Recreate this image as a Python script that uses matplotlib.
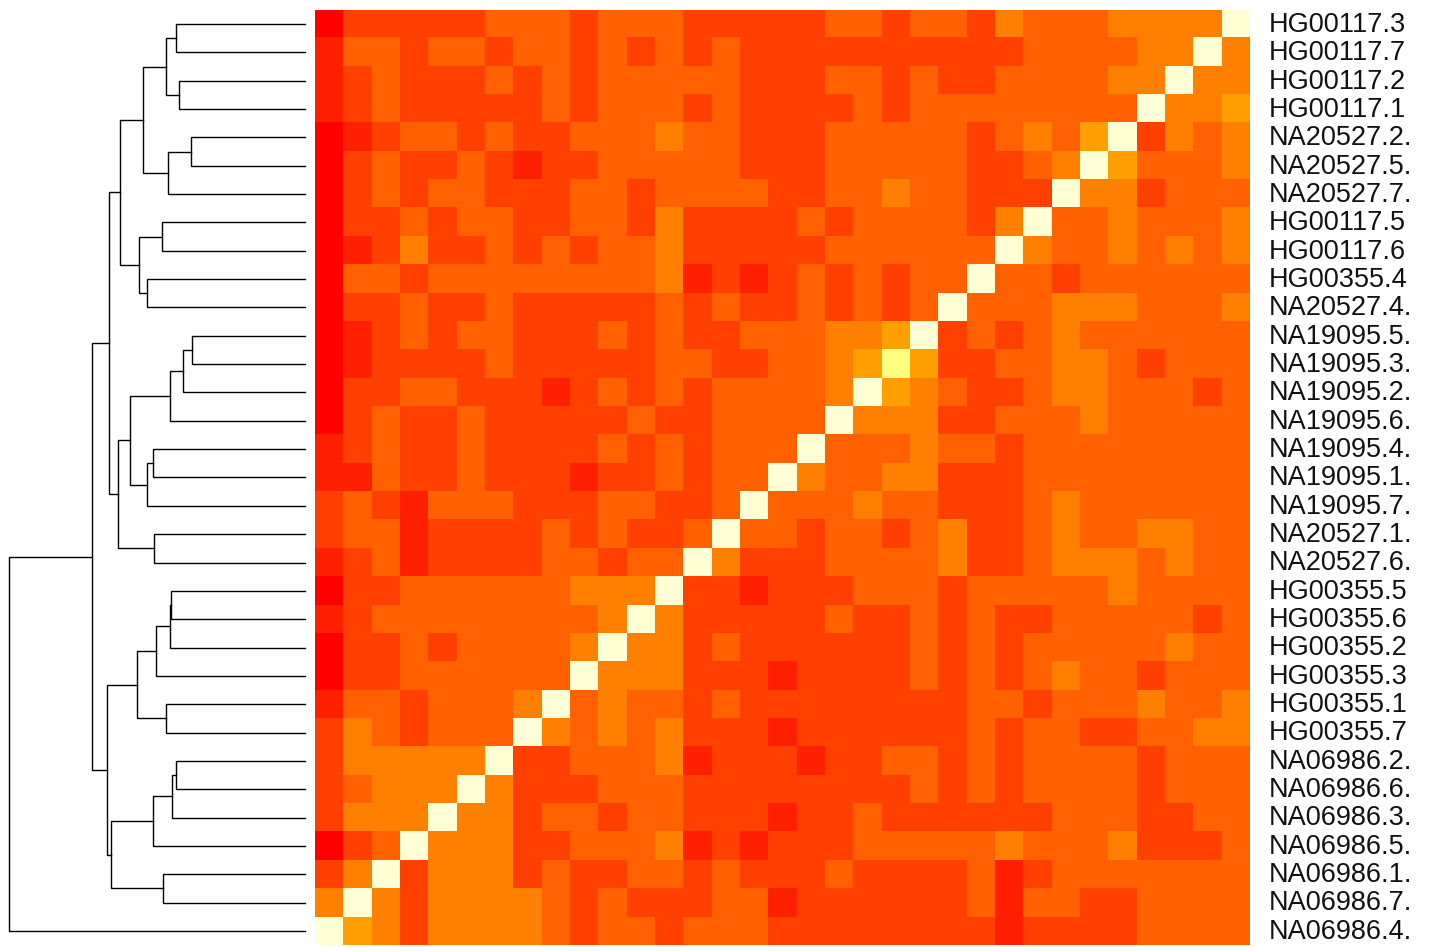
import numpy as np
import matplotlib
matplotlib.use("Agg")
import matplotlib.pyplot as plt
from matplotlib.colors import ListedColormap

# row labels, top to bottom
labels = ["HG00117.3", "HG00117.7", "HG00117.2", "HG00117.1", "NA20527.2.",
          "NA20527.5.", "NA20527.7.", "HG00117.5", "HG00117.6", "HG00355.4",
          "NA20527.4.", "NA19095.5.", "NA19095.3.", "NA19095.2.", "NA19095.6.",
          "NA19095.4.", "NA19095.1.", "NA19095.7.", "NA20527.1.", "NA20527.6.",
          "HG00355.5", "HG00355.6", "HG00355.2", "HG00355.3", "HG00355.1",
          "HG00355.7", "NA06986.2.", "NA06986.6.", "NA06986.3.", "NA06986.5.",
          "NA06986.1.", "NA06986.7.", "NA06986.4."]

# heat.colors(12) levels per cell (0 = red ... 11 = pale yellow)
levels = [
    [0,2,2,2,2,2,3,3,3,2,3, 3,3,2,2,2,2,2,3,3,2,3, 3,2,4,3,3,3,4,4,4,4,11],
    [1,3,3,2,3,3,2,3,3,2,3, 2,3,2,3,2,2,2,2,2,2,2, 2,2,2,3,3,3,3,4,4,11,4],
    [1,2,3,2,2,2,3,2,3,2,3, 3,3,3,3,2,2,2,3,3,2,3, 2,2,3,3,3,3,4,4,11,4,4],
    [1,2,3,2,2,2,2,2,3,2,3, 3,3,2,3,2,2,2,2,3,2,3, 3,3,3,3,3,3,3,11,4,4,5],
    [0,1,2,3,3,2,3,2,2,3,3, 3,4,3,3,2,2,2,3,3,3,3, 3,2,3,4,3,5,11,2,4,3,4],
    [0,2,3,2,2,3,2,1,2,2,3, 3,3,3,3,2,2,2,3,3,3,3, 3,2,2,3,4,11,5,3,3,3,4],
    [0,2,3,2,3,3,2,2,2,3,3, 2,3,3,3,3,2,2,3,3,4,3, 3,2,2,2,11,4,4,2,3,3,3],
    [0,2,2,3,2,3,3,2,2,3,3, 2,4,2,2,2,2,3,2,3,3,3, 3,2,4,11,3,3,4,3,3,3,4],
    [0,1,2,4,2,2,3,2,3,2,3, 3,4,2,2,2,2,2,3,3,3,3, 3,3,11,4,3,3,4,3,4,3,4],
    [0,3,3,2,3,3,3,3,3,3,3, 3,4,1,2,1,2,3,2,3,2,3, 3,11,3,3,2,3,3,3,3,3,3],
    [0,2,2,3,2,2,3,2,2,2,2, 2,3,2,3,2,2,3,2,3,2,3, 11,3,3,3,4,4,4,3,3,3,4],
    [0,1,2,3,2,3,3,2,2,2,3, 2,3,2,2,3,3,3,4,4,5,11, 2,3,2,3,4,3,3,3,3,3,3],
    [0,1,2,2,2,2,3,2,2,2,2, 2,3,3,2,2,3,3,4,5,10,5, 2,2,3,3,4,4,3,2,3,3,3],
    [0,2,2,3,3,2,2,2,1,2,3, 2,3,2,3,3,3,3,4,11,5,4, 3,2,2,3,4,4,3,3,3,2,3],
    [0,2,3,2,2,3,2,2,2,2,2, 3,2,2,3,3,3,3,11,4,4,4, 2,2,3,3,3,4,3,3,3,3,3],
    [1,2,3,2,2,3,2,2,2,2,3, 2,3,2,3,3,3,11,3,3,3,4, 3,3,2,3,3,3,3,3,3,3,3],
    [1,1,3,2,2,3,2,2,2,1,2, 2,3,2,3,3,11,4,3,3,4,4, 2,2,2,3,3,3,3,3,3,3,3],
    [2,3,2,1,3,3,3,2,2,2,3, 3,2,2,3,11,3,3,3,4,3,3, 2,2,2,3,4,3,3,3,3,3,3],
    [2,3,3,1,2,2,2,2,3,2,3, 2,2,3,11,3,3,2,3,3,2,3, 4,2,2,3,4,3,3,4,4,3,3],
    [1,2,3,1,2,2,2,2,3,3,2, 3,3,11,4,2,2,2,3,3,3,3, 4,2,2,3,4,4,4,3,4,3,3],
    [0,2,2,3,3,3,3,3,3,4,4, 4,11,2,2,1,2,2,2,3,3,3, 2,3,3,3,3,3,4,3,3,3,3],
    [1,2,3,3,3,3,3,3,3,3,4, 11,4,2,2,2,2,2,3,2,2,3, 2,3,2,2,3,3,3,3,3,2,3],
    [0,2,2,3,2,3,3,3,3,4,11, 4,4,2,3,2,2,2,2,2,2,3, 2,3,2,3,3,3,3,3,4,3,3],
    [0,2,2,3,3,3,3,3,3,11,4, 4,4,2,2,2,1,2,2,2,2,3, 2,3,2,3,4,3,3,2,3,3,3],
    [1,3,3,2,3,3,3,4,11,3,4, 3,3,2,3,2,2,2,2,2,2,2, 2,3,3,2,3,3,3,4,3,3,4],
    [2,4,3,2,3,3,3,11,4,3,4, 3,4,2,2,2,1,2,2,2,2,2, 2,3,2,3,3,2,2,3,3,4,4],
    [2,4,4,4,4,4,11,2,2,3,3, 3,4,1,2,2,2,1,2,2,3,3, 2,3,2,3,3,3,3,2,3,3,3],
    [2,3,4,4,4,11,4,2,2,2,3, 3,3,2,2,2,2,2,2,2,2,3, 2,3,2,3,3,3,3,2,3,3,3],
    [2,4,4,4,11,4,4,2,3,3,2, 3,3,2,2,2,1,2,2,3,2,2, 2,2,2,2,3,3,3,2,2,3,3],
    [0,2,3,11,4,4,4,2,2,3,3, 3,4,1,2,1,2,2,2,3,3,3, 3,3,4,3,3,3,4,2,2,2,3],
    [2,4,11,2,4,4,4,2,3,2,2, 3,3,2,3,2,2,2,3,2,2,2, 2,3,1,2,3,3,3,3,3,3,3],
    [4,11,4,2,4,4,4,4,3,2,3, 2,2,2,3,3,1,2,2,2,2,2, 2,3,1,3,3,2,2,3,3,3,3],
    [11,5,4,2,4,4,4,4,3,2,3, 3,2,3,3,3,2,2,2,2,2,2, 2,2,1,2,2,2,2,3,3,3,3],
]

heat_colors = ["#FF0000", "#FF2000", "#FF4000", "#FF6000", "#FF8000", "#FF9F00",
               "#FFBF00", "#FFDF00", "#FFFF00", "#FFFF2A", "#FFFF80", "#FFFFD5"]

# row dendrogram merges: (child a, child b, height); leaves 0..32, new nodes 33..
merges = [
    (0, 1, 0.437), (2, 3, 0.425), (33, 34, 0.471), (4, 5, 0.386),
    (36, 6, 0.464), (35, 37, 0.546), (7, 8, 0.482), (9, 10, 0.535),
    (39, 40, 0.561), (38, 41, 0.624), (11, 12, 0.381), (43, 13, 0.413),
    (44, 14, 0.457), (15, 16, 0.515), (46, 17, 0.535), (45, 47, 0.592),
    (18, 19, 0.509), (48, 49, 0.631), (42, 50, 0.662), (20, 21, 0.452),
    (52, 22, 0.457), (53, 23, 0.502), (24, 25, 0.471), (54, 55, 0.568),
    (26, 27, 0.437), (57, 28, 0.450), (58, 29, 0.515), (30, 31, 0.481),
    (59, 60, 0.655), (56, 61, 0.668), (51, 62, 0.720), (63, 32, 1.0),
]

W, H = 1437, 947
fig = plt.figure(figsize=(W / 100, H / 100), dpi=100)
fig.patch.set_facecolor("white")

n = len(labels)
y0, y1 = 10, 945
ax = fig.add_axes([315 / W, (H - y1) / H, 935 / W, (y1 - y0) / H])
ax.imshow(np.array(levels), cmap=ListedColormap(heat_colors), vmin=-0.5, vmax=11.5,
          aspect="auto", interpolation="nearest")
ax.set_xticks([])
ax.set_yticks([])
for s in ax.spines.values():
    s.set_visible(False)
for i, lab in enumerate(labels):
    ax.text(1.0 + 19 / 935, i + 0.03, lab, transform=ax.get_yaxis_transform(),
            ha="left", va="center", fontsize=19.5, family="Liberation Sans",
            color="#111111")

# dendrogram
dax = fig.add_axes([0, (H - y1) / H, 310 / W, (y1 - y0) / H])
pos = {i: float(i) for i in range(n)}
hgt = {i: 0.0 for i in range(n)}
for k, (a, b, h) in enumerate(merges):
    node = n + k
    dax.plot([hgt[a], h, h, hgt[b]], [pos[a], pos[a], pos[b], pos[b]],
             color="black", lw=1.0, solid_joinstyle="miter")
    pos[node] = (pos[a] + pos[b]) / 2
    hgt[node] = h
dax.set_xlim(305 / 296, -5 / 296)
dax.set_ylim(n - 0.5, -0.5)
dax.axis("off")

fig.savefig("out.png", dpi=100, facecolor="white")
